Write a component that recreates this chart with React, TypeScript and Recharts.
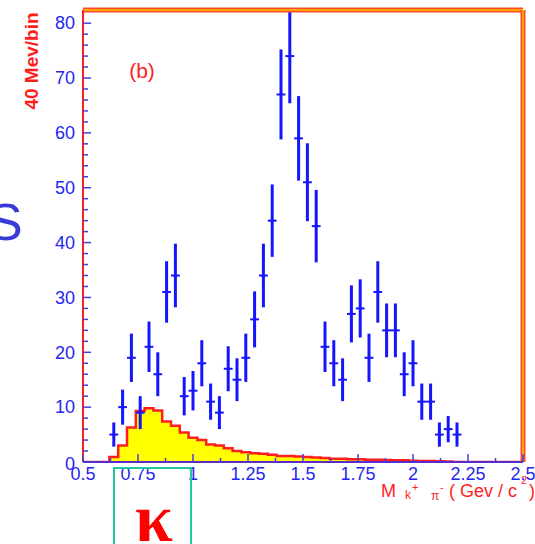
import React from 'react';
import { ComposedChart, Area, Scatter, ErrorBar, XAxis, YAxis, ReferenceLine } from 'recharts';

// K+ pi- invariant mass bins (GeV/c^2), 40 MeV wide
const massBins = [
  0.64, 0.68, 0.72, 0.76, 0.80, 0.84, 0.88, 0.92, 0.96, 1.00,
  1.04, 1.08, 1.12, 1.16, 1.20, 1.24, 1.28, 1.32, 1.36, 1.40,
  1.44, 1.48, 1.52, 1.56, 1.60, 1.64, 1.68, 1.72, 1.76, 1.80,
  1.84, 1.88, 1.92, 1.96, 2.00, 2.04, 2.08, 2.12, 2.16, 2.20,
];
const counts = [
  5, 10, 19, 9, 21, 16, 31, 34, 12, 13,
  18, 11, 9, 17, 15, 19, 26, 34, 44, 67,
  74, 59, 51, 43, 21, 18, 15, 27, 28, 19,
  31, 24, 24, 16, 18, 11, 11, 5, 6, 5,
];
const countErrors = [
  2.2, 3.2, 4.4, 3.0, 4.6, 4.0, 5.6, 5.8, 3.5, 3.6,
  4.2, 3.3, 3.0, 4.1, 3.9, 4.4, 5.1, 5.8, 6.6, 8.2,
  8.6, 7.7, 7.1, 6.6, 4.6, 4.2, 3.9, 5.2, 5.3, 4.4,
  5.6, 4.9, 4.9, 4.0, 4.2, 3.3, 3.3, 2.2, 2.4, 2.2,
];
const BIN_HALF_WIDTH = 0.02;

// shaded (kappa) histogram, left bin edges and contents
const histEdges = [
  0.5, 0.62, 0.66, 0.70, 0.74, 0.78, 0.82, 0.86, 0.90, 0.94,
  0.98, 1.02, 1.06, 1.10, 1.14, 1.18, 1.22, 1.26, 1.30, 1.34,
  1.38, 1.42, 1.46, 1.50, 1.54, 1.58, 1.62, 1.66, 1.70, 1.74,
  1.78, 1.82, 1.86, 1.90, 1.94, 1.98, 2.02, 2.06, 2.10, 2.14,
  2.18, 2.5,
];
const histValues = [
  0, 0.9, 3.0, 6.3, 9.3, 9.8, 9.4, 7.4, 6.6, 5.4,
  4.4, 4.0, 3.2, 3.0, 2.5, 2.0, 1.8, 1.6, 1.5, 1.3,
  1.1, 1.1, 1.0, 0.9, 0.8, 0.75, 0.6, 0.6, 0.5, 0.5,
  0.4, 0.4, 0.35, 0.3, 0.3, 0.25, 0.2, 0.2, 0.15, 0.1,
  0, 0,
];

const yTicks = [
  0, 2, 4, 6, 8, 10, 12, 14, 16, 18, 20, 22, 24, 26, 28, 30, 32, 34, 36, 38, 40,
  42, 44, 46, 48, 50, 52, 54, 56, 58, 60, 62, 64, 66, 68, 70, 72, 74, 76, 78, 80,
];
const yLabelTicks = [0, 10, 20, 30, 40, 50, 60, 70, 80];
const xTicks = [
  0.5, 0.625, 0.75, 0.875, 1, 1.125, 1.25, 1.375, 1.5, 1.625, 1.75, 1.875,
  2, 2.125, 2.25, 2.375, 2.5,
];
const xLabelTicks = [0.5, 0.75, 1, 1.25, 1.5, 1.75, 2, 2.25, 2.5];

const Y_MAX = 82.4;

const pointData = massBins.map((m, i) => ({ m, n: counts[i], err: countErrors[i], xerr: BIN_HALF_WIDTH }));
const histData = histEdges.map((m, i) => ({ m, v: histValues[i] }));

const LABEL_BLUE = '#2626ee';
const TICK_BLUE = '#4040dd';
const RED = '#ff1e1e';
const SANS = '"Liberation Sans", Arial, sans-serif';

const YTick = (props: any) => {
  const { x, y, payload } = props;
  const v = payload.value;
  const major = yLabelTicks.includes(v);
  return (
    <g>
      <line x1={x} x2={x + (major ? 8 : 5)} y1={y} y2={y} stroke={TICK_BLUE} strokeWidth={1.5} />
      {major && (
        <text x={x - 8} y={y + (v === 0 ? 2 : 0)} dy="0.35em" textAnchor="end" fill={LABEL_BLUE} fontSize={18} fontFamily={SANS}>
          {v}
        </text>
      )}
    </g>
  );
};

const XTick = (props: any) => {
  const { x, y, payload } = props;
  const v = payload.value;
  const major = xLabelTicks.includes(v);
  return (
    <g>
      <line x1={x} x2={x} y1={y} y2={y - (major ? 8 : 4)} stroke={TICK_BLUE} strokeWidth={1.5} />
      {major && (
        <text x={x} y={y + 18} textAnchor="middle" fill={LABEL_BLUE} fontSize={18} fontFamily={SANS}>
          {String(v)}
        </text>
      )}
    </g>
  );
};

export default function App() {
  return (
    <div style={{ position: 'absolute', left: 0, top: 0, width: 535, height: 544, background: '#fff', overflow: 'hidden' }}>
      <ComposedChart width={535} height={544} margin={{ top: 10, right: 12, bottom: 0, left: 0 }}>
        <XAxis
          dataKey="m"
          type="number"
          domain={[0.5, 2.5]}
          allowDataOverflow
          ticks={xTicks}
          interval={0}
          height={82}
          tickSize={0}
          tickMargin={0}
          tickLine={false}
          tick={<XTick />}
          axisLine={{ stroke: '#5a2ccc', strokeWidth: 2 }}
        />
        <YAxis
          type="number"
          domain={[0, Y_MAX]}
          allowDataOverflow
          ticks={yTicks}
          interval={0}
          width={83}
          tickSize={0}
          tickMargin={0}
          tickLine={false}
          tick={<YTick />}
          axisLine={{ stroke: RED, strokeWidth: 2 }}
        />
        <Area
          data={histData}
          dataKey="v"
          type="stepAfter"
          stroke={RED}
          strokeWidth={2.5}
          fill="#ffff00"
          fillOpacity={1}
          dot={false}
          activeDot={false}
          isAnimationActive={false}
        />
        <Scatter data={pointData} dataKey="n" fill="#1414ff" shape={() => <g />} isAnimationActive={false}>
          <ErrorBar dataKey="err" direction="y" width={0} stroke="#1414ff" strokeWidth={3} isAnimationActive={false} />
          <ErrorBar dataKey="xerr" direction="x" width={0} stroke="#1414ff" strokeWidth={2} isAnimationActive={false} />
        </Scatter>
        <ReferenceLine y={Y_MAX} stroke="#ff4a2a" strokeWidth={5} />
        <ReferenceLine y={Y_MAX} stroke="#ffa500" strokeWidth={2} />
        <ReferenceLine x={2.5} stroke="#ff4a2a" strokeWidth={5} />
        <ReferenceLine x={2.5} stroke="#ffa500" strokeWidth={2} />
      </ComposedChart>
      <svg width={535} height={544} style={{ position: 'absolute', left: 0, top: 0, pointerEvents: 'none' }}>
        <text x={-12} y={240} fill="#3a3ad6" fontSize={52} fontFamily={SANS}>S</text>
        <text
          x={31}
          y={61}
          transform="rotate(-90 31 61)"
          textAnchor="middle"
          dy="0.35em"
          fill={RED}
          fontSize={19}
          fontWeight="bold"
          fontFamily={SANS}
        >
          40 Mev/bin
        </text>
        <text x={142} y={78} textAnchor="middle" fill={RED} fontSize={21} fontFamily={SANS}>(b)</text>
        <g fill={RED} fontFamily={SANS}>
          <text x={381} y={497} fontSize={18}>M</text>
          <text x={405} y={499} fontSize={12}>k</text>
          <text x={412} y={491} fontSize={11}>+</text>
          <text x={431} y={500} fontSize={12}>π</text>
          <text x={440} y={491} fontSize={11}>-</text>
          <text x={449} y={497} fontSize={18}>( Gev / c</text>
          <text x={521} y={484} fontSize={11}>2</text>
          <text x={529} y={497} fontSize={18}>)</text>
        </g>
        <rect x={114} y={468} width={77} height={100} fill="none" stroke="#22c8a0" strokeWidth={2} />
        <text x={154} y={541} textAnchor="middle" fill="#ff0000" fontSize={68} fontWeight="bold" fontFamily='"Liberation Serif", "DejaVu Serif", serif'>κ</text>
      </svg>
    </div>
  );
}
